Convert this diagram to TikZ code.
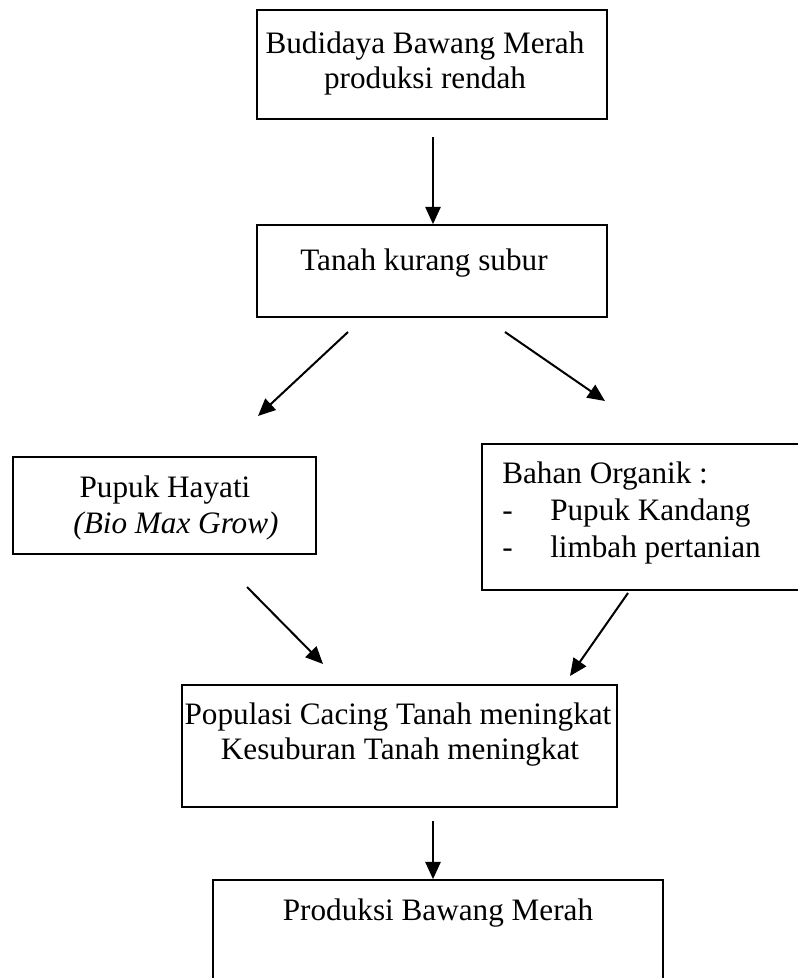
\documentclass[tikz,border=0pt]{standalone}
\usepackage{fontspec}
\setmainfont{Liberation Serif}
\usetikzlibrary{arrows.meta}
\begin{document}
\begin{tikzpicture}[x=0.75pt,y=-0.75pt,
  boxnode/.style={draw, line width=1.3pt, inner sep=0pt},
  txt/.style={inner sep=0pt, anchor=base, font=\fontsize{23.4}{27}\selectfont},
  ltxt/.style={inner sep=0pt, anchor=base west, font=\fontsize{23.4}{27}\selectfont},
  conn/.style={line width=1.5pt, -{Triangle[length=13pt,width=11.5pt]}}]
\clip (0,0) rectangle (798,978);
% boxes
\node[boxnode, minimum width=350*0.75pt, minimum height=109*0.75pt] (b1) at (432,64.5) {};
\node[boxnode, minimum width=350*0.75pt, minimum height=92*0.75pt] (b2) at (432,271) {};
\node[boxnode, minimum width=303*0.75pt, minimum height=97*0.75pt] (b3) at (164.5,505.5) {};
\node[boxnode, minimum width=330*0.75pt, minimum height=146*0.75pt] (b4) at (647,517) {};
\node[boxnode, minimum width=435*0.75pt, minimum height=122*0.75pt] (b5) at (399.5,746) {};
\node[boxnode, minimum width=450*0.75pt, minimum height=130*0.75pt] (b6) at (438,945) {};
% texts
\node[txt] (t1a) at (425,53) {Budidaya Bawang Merah};
\node[txt] (t1b) at (425,88) {produksi rendah};
\node[txt] (t2) at (424,270) {Tanah kurang subur};
\node[txt] (t3a) at (165,497) {Pupuk Hayati};
\node[txt] (t3b) at (176,533) {\itshape (Bio Max Grow)};
\node[ltxt] (t4a) at (502,483) {Bahan Organik :};
\node[ltxt] (t4b) at (502,520) {-};
\node[ltxt] (t4c) at (550,520) {Pupuk Kandang};
\node[ltxt] (t4d) at (502,557) {-};
\node[ltxt] (t4e) at (550,557) {limbah pertanian};
\node[txt] (t5a) at (398,724) {Populasi Cacing Tanah meningkat};
\node[txt] (t5b) at (400,759) {Kesuburan Tanah meningkat};
\node[txt] (t6) at (438,920) {Produksi Bawang Merah};
% connector end points
\coordinate (a1s) at (433,137);
\coordinate (a2s) at (348,332);
\coordinate (a2e) at (258,416);
\coordinate (a3s) at (505,332);
\coordinate (a3e) at (605,401);
\coordinate (a4s) at (247,587);
\coordinate (a4e) at (323,664);
\coordinate (a5s) at (628,593);
\coordinate (a5e) at (570,676);
\coordinate (a6s) at (433,821);
\draw[conn] (a1s) -- (a1s |- b2.north);
\draw[conn] (a2s) -- (a2e);
\draw[conn] (a3s) -- (a3e);
\draw[conn] (a4s) -- (a4e);
\draw[conn] (a5s) -- (a5e);
\draw[conn] (a6s) -- (a6s |- b6.north);
\end{tikzpicture}
\end{document}
